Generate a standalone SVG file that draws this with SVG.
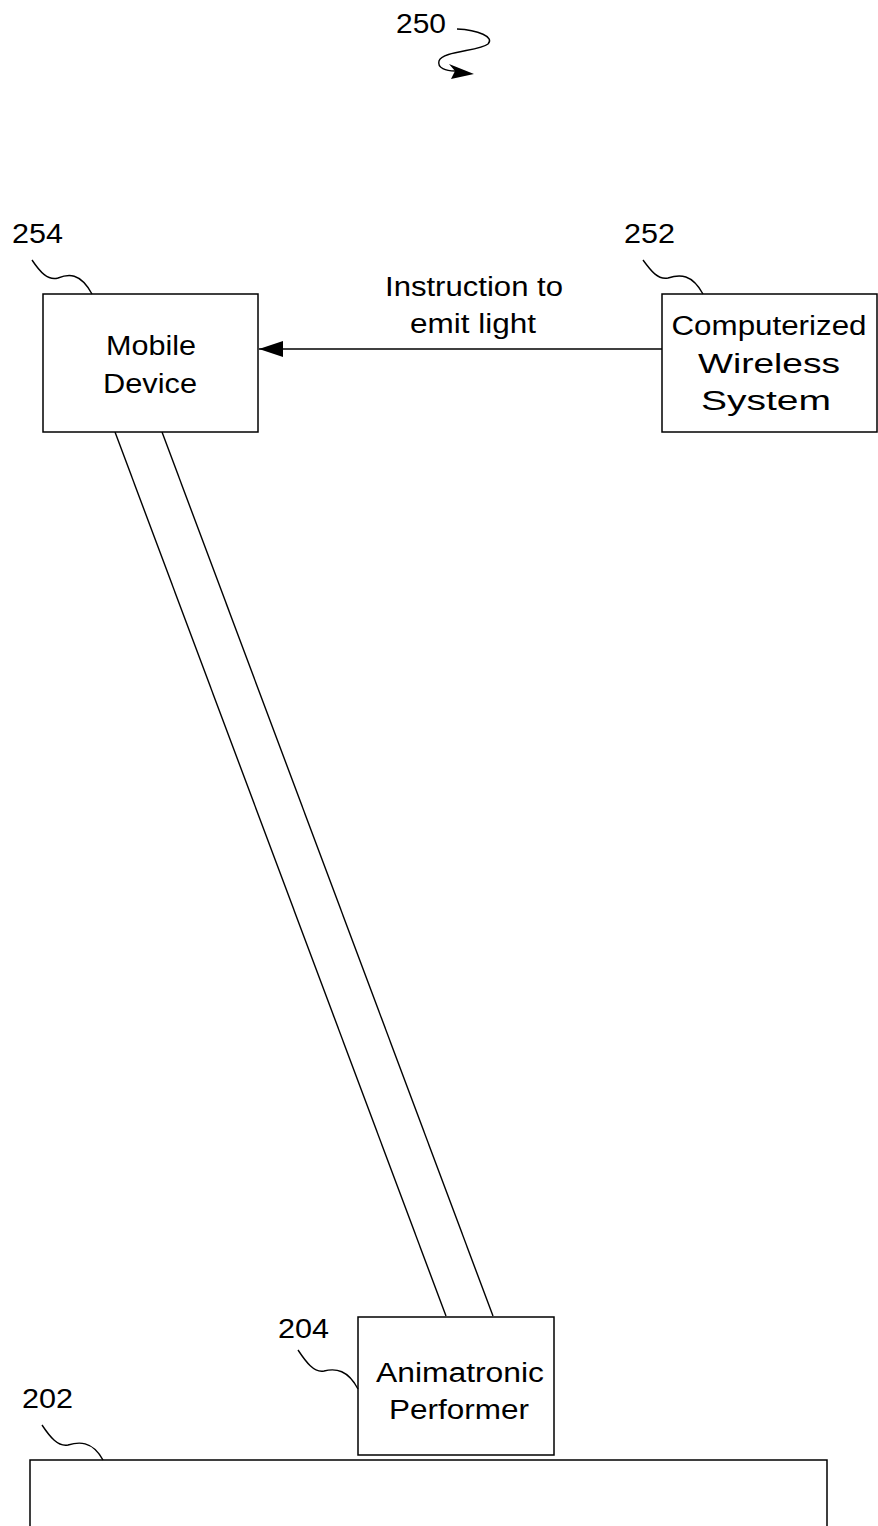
<svg xmlns="http://www.w3.org/2000/svg" width="878" height="1526" viewBox="0 0 878 1526">
<style>
.box{fill:#fff;stroke:#000;stroke-width:1.5}
.ln{fill:none;stroke:#000;stroke-width:1.4}
.t{font-family:"Liberation Sans",Arial,sans-serif;font-size:27px;fill:#000;text-anchor:middle}
.n{font-family:"Liberation Sans",Arial,sans-serif;font-size:27px;fill:#000}
</style>
<defs>
<marker id="ah" markerWidth="24" markerHeight="16" refX="24" refY="8" orient="auto" markerUnits="userSpaceOnUse">
<path d="M0,0 L24,8 L0,16 Z" fill="#000"/>
</marker>
</defs>
<rect width="878" height="1526" fill="#fff"/>
<g id="ref250">
<text class="n" x="396" y="33" textLength="50" lengthAdjust="spacingAndGlyphs">250</text>
<path class="ln" d="M457,29 C478,30 495,37 488,44 C480,51 442,51 439,61 C437,68 446,71 455,71"/>
<polygon points="449,64 474,74 451,79 455,71" fill="#000"/>
</g>
<g id="connectors">
<line class="ln" x1="662" y1="349" x2="259" y2="349" marker-end="url(#ah)"/>
<text class="t" x="474" y="296" textLength="178" lengthAdjust="spacingAndGlyphs">Instruction to</text>
<text class="t" x="473" y="333" textLength="126" lengthAdjust="spacingAndGlyphs">emit light</text>
<line class="ln" x1="115" y1="432" x2="446" y2="1316"/>
<line class="ln" x1="162" y1="432" x2="493" y2="1316"/>
</g>
<g id="mobile">
<rect class="box" x="43" y="294" width="215" height="138"/>
<text class="t" x="151" y="355" textLength="90" lengthAdjust="spacingAndGlyphs">Mobile</text>
<text class="t" x="150" y="393" textLength="94" lengthAdjust="spacingAndGlyphs">Device</text>
<text class="n" x="12" y="243" textLength="51" lengthAdjust="spacingAndGlyphs">254</text>
<path class="ln" d="M32,260 C40,272 48,281 58,278 C68,274 80,272 92,294"/>
</g>
<g id="wireless">
<rect class="box" x="662" y="294" width="215" height="138"/>
<text class="t" x="769" y="335" textLength="195" lengthAdjust="spacingAndGlyphs">Computerized</text>
<text class="t" x="769" y="373" textLength="142" lengthAdjust="spacingAndGlyphs">Wireless</text>
<text class="t" x="766" y="410" textLength="130" lengthAdjust="spacingAndGlyphs">System</text>
<text class="n" x="624" y="243" textLength="51" lengthAdjust="spacingAndGlyphs">252</text>
<path class="ln" d="M643,260 C651,271 658,280 668,278 C680,274 692,274 703,294"/>
</g>
<g id="animatronic">
<rect class="box" x="358" y="1317" width="196" height="138"/>
<text class="t" x="460" y="1382" textLength="168" lengthAdjust="spacingAndGlyphs">Animatronic</text>
<text class="t" x="459" y="1419" textLength="140" lengthAdjust="spacingAndGlyphs">Performer</text>
<text class="n" x="278" y="1338" textLength="51" lengthAdjust="spacingAndGlyphs">204</text>
<path class="ln" d="M298,1350 C306,1362 314,1373 324,1371 C336,1368 348,1370 358,1389"/>
</g>
<g id="stage">
<path class="box" d="M30,1540 L30,1460 L827,1460 L827,1540"/>
<text class="n" x="22" y="1408" textLength="51" lengthAdjust="spacingAndGlyphs">202</text>
<path class="ln" d="M42,1425 C50,1437 58,1447 68,1445 C78,1442 92,1440 103,1460"/>
</g>
</svg>
